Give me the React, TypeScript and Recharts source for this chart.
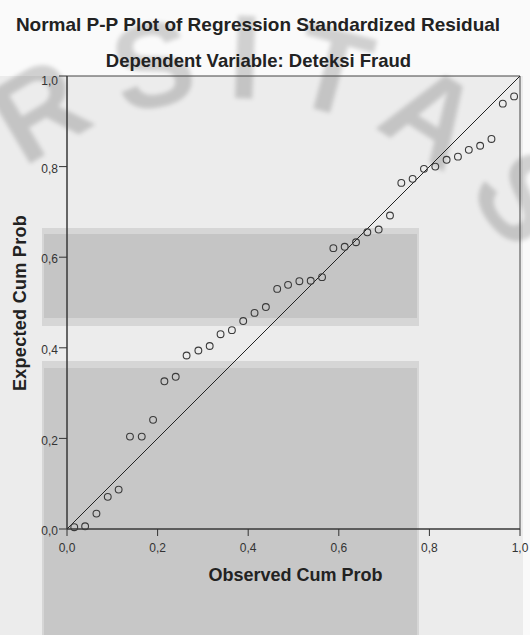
import React from 'react';
import {
  ScatterChart,
  Scatter,
  XAxis,
  YAxis,
  ReferenceLine,
  ReferenceArea,
} from 'recharts';

const observedCum = [
  0.016, 0.04, 0.065, 0.09, 0.114, 0.139, 0.165, 0.19, 0.215, 0.24,
  0.264, 0.29, 0.315, 0.339, 0.364, 0.389, 0.414, 0.439, 0.464, 0.488,
  0.513, 0.538, 0.563, 0.588, 0.613, 0.638, 0.663, 0.688, 0.713, 0.738,
  0.763, 0.788, 0.813, 0.838, 0.863, 0.887, 0.912, 0.937, 0.962, 0.987,
];
const expectedCum = [
  0.004, 0.006, 0.034, 0.071, 0.087, 0.204, 0.204, 0.241, 0.326, 0.336,
  0.383, 0.394, 0.404, 0.43, 0.439, 0.459, 0.477, 0.49, 0.53, 0.539,
  0.547, 0.548, 0.556, 0.62, 0.623, 0.633, 0.655, 0.661, 0.692, 0.764,
  0.773, 0.795, 0.8, 0.815, 0.822, 0.837, 0.846, 0.861, 0.939, 0.955,
];
const axisTicks = [0, 0.2, 0.4, 0.6, 0.8, 1];

const points = observedCum.map((x, i) => ({ x, y: expectedCum[i] }));
const fmt = (v: number) => v.toFixed(1).replace('.', ',');

const FONT = '"Liberation Sans", Arial, sans-serif';

function OpenCircle(props: any) {
  const { cx, cy } = props;
  return <circle cx={cx} cy={cy} r={3.4} fill="none" stroke="#3a3a3a" strokeWidth={1.1} />;
}

// y tick labels sit a little below their tick marks in the original
function YTick(props: any) {
  const { x, y, payload } = props;
  const shift = payload.value === 1 ? 5 : 2;
  return (
    <text
      x={x}
      y={y + shift}
      dy="0.355em"
      textAnchor="end"
      fill="#333"
      fontSize={12}
      fontFamily={FONT}
    >
      {fmt(payload.value)}
    </text>
  );
}

function Watermark() {
  // faint arc lettering from the scanned page behind the chart
  return (
    <svg width={530} height={635} style={{ position: 'absolute', left: 0, top: 0 }}>
      <defs>
        <path id="wmArc" d="M 25 170 A 332 332 0 0 1 510 250" />
        <filter id="wmBlur">
          <feGaussianBlur stdDeviation="2" />
        </filter>
      </defs>
      <text
        fontFamily={FONT}
        fontWeight="bold"
        fontSize={120}
        fill="#000"
        fillOpacity={0.17}
        filter="url(#wmBlur)"
      >
        <textPath href="#wmArc" textLength={560} lengthAdjust="spacing">
          RSITAS
        </textPath>
      </text>
    </svg>
  );
}

export default function App() {
  return (
    <div
      style={{
        position: 'absolute',
        left: 0,
        top: 0,
        width: 530,
        height: 635,
        background: '#fafafa',
        overflow: 'hidden',
        fontFamily: FONT,
      }}
    >
      {/* background layers of the scanned page */}
      <div style={{ position: 'absolute', left: 0, top: 76, width: 523, height: 559, background: '#ececec' }} />
      <div style={{ position: 'absolute', left: 42, top: 228, width: 377, height: 98, background: '#d6d6d6' }} />
      <div style={{ position: 'absolute', left: 44, top: 234, width: 373, height: 84, background: '#c5c5c5' }} />
      <div style={{ position: 'absolute', left: 42, top: 361, width: 377, height: 274, background: '#d6d6d6' }} />
      <div style={{ position: 'absolute', left: 44, top: 368, width: 373, height: 267, background: '#c7c7c7' }} />
      <Watermark />

      <div
        style={{
          position: 'absolute',
          left: 0,
          width: 516,
          top: 14,
          textAlign: 'center',
          fontSize: 19,
          fontWeight: 'bold',
          color: '#222',
          whiteSpace: 'nowrap',
        }}
      >
        Normal P-P Plot of Regression Standardized Residual
      </div>
      <div
        style={{
          position: 'absolute',
          left: 0,
          width: 517,
          top: 50,
          textAlign: 'center',
          fontSize: 18.5,
          fontWeight: 'bold',
          color: '#222',
          whiteSpace: 'nowrap',
        }}
      >
        Dependent Variable: Deteksi Fraud
      </div>

      <div style={{ position: 'absolute', left: 0, top: 0 }}>
        <ScatterChart width={530} height={635} margin={{ top: 76, right: 10, bottom: 76, left: 7 }}>
          <XAxis
            type="number"
            dataKey="x"
            domain={[0, 1]}
            ticks={axisTicks}
            tickFormatter={fmt}
            height={30}
            tickSize={7}
            tickMargin={7}
            stroke="#333"
            tick={{ fill: '#333', fontSize: 12, fontFamily: FONT }}
          />
          <YAxis
            type="number"
            dataKey="y"
            domain={[0, 1]}
            ticks={axisTicks}
            width={60}
            tickSize={8}
            tickMargin={1}
            stroke="#333"
            tick={<YTick />}
          />
          <ReferenceArea x1={0} x2={1} y1={0} y2={1} fill="none" fillOpacity={0} stroke="#444" strokeWidth={1} />
          <ReferenceLine
            segment={[
              { x: 0, y: 0 },
              { x: 1, y: 1 },
            ]}
            stroke="#222"
            strokeWidth={1}
          />
          <Scatter data={points} shape={OpenCircle} isAnimationActive={false} />
        </ScatterChart>
      </div>

      <div
        style={{
          position: 'absolute',
          left: 69,
          width: 453,
          top: 565,
          textAlign: 'center',
          fontSize: 18,
          fontWeight: 'bold',
          color: '#222',
          whiteSpace: 'nowrap',
        }}
      >
        Observed Cum Prob
      </div>
      <div
        style={{
          position: 'absolute',
          left: 20,
          top: 303,
          transform: 'translate(-50%, -50%) rotate(-90deg)',
          whiteSpace: 'nowrap',
          fontSize: 18,
          letterSpacing: 0.3,
          fontWeight: 'bold',
          color: '#222',
        }}
      >
        Expected Cum Prob
      </div>
    </div>
  );
}
